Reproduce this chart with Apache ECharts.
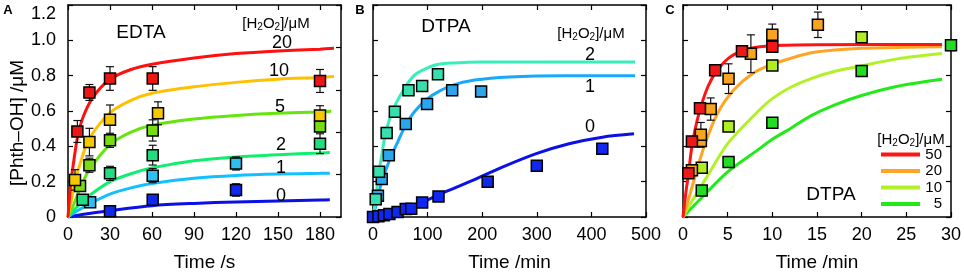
<!DOCTYPE html>
<html><head><meta charset="utf-8">
<script src="https://cdn.jsdelivr.net/npm/echarts@6/dist/echarts.min.js"></script>
<style>html,body{margin:0;padding:0;background:#fff}#c{width:964px;height:277px}</style>
</head><body><div id="c"></div>
<script>
// ---------- Panel A : EDTA, time in s ----------
const A_xTicksMax = 195;
const A_fit20 = [[0,0],[2,0.19],[4,0.31],[7,0.46],[11,0.57],[18,0.68],[30,0.78],[45,0.835],[60,0.865],[90,0.9],[120,0.925],[150,0.94],[180,0.95],[190,0.955]];
const A_fit10 = [[0,0],[2,0.08],[5,0.2],[8.6,0.3],[15,0.44],[30,0.59],[45,0.66],[60,0.7],[90,0.737],[120,0.762],[150,0.78],[180,0.79],[190,0.795]];
const A_fit5  = [[0,0],[4,0.07],[8.6,0.16],[15,0.265],[30,0.41],[45,0.48],[60,0.52],[90,0.555],[120,0.575],[150,0.587],[180,0.595],[188,0.598]];
const A_fit2  = [[0,0],[5,0.045],[10,0.085],[15,0.12],[30,0.2],[45,0.245],[60,0.278],[90,0.318],[120,0.34],[150,0.353],[180,0.362],[187,0.365]];
const A_fit1  = [[0,0],[5,0.027],[10,0.05],[16,0.078],[30,0.13],[45,0.165],[60,0.19],[90,0.219],[120,0.235],[150,0.243],[180,0.247],[187,0.248]];
const A_fit0  = [[0,0],[10,0.014],[30,0.036],[60,0.064],[90,0.077],[120,0.085],[150,0.091],[180,0.096],[187,0.097]];
// points: [time, value, error]
const A_pts20 = [[6.7,0.484,0.062],[15.3,0.705,0.045],[30,0.784,0.067],[60.5,0.784,0.067],[180,0.77,0.065]];
const A_pts10 = [[5,0.21,0.058],[15.3,0.424,0.078],[30,0.55,0.084],[64.3,0.587,0.065],[180,0.574,0.056]];
const A_pts5  = [[8.6,0.176,0.02],[15.3,0.293,0.04],[30,0.434,0.04],[60.5,0.49,0.06],[180,0.512,0.03]];
const A_pts2  = [[10.5,0.097,0.015],[30,0.247,0.04],[60.5,0.35,0.056],[180,0.415,0.056]];
const A_pts1  = [[15.8,0.084,0.015],[60.5,0.234,0.04],[120,0.303,0.037]];
const A_pts0  = [[30,0.032,0.01],[60.5,0.097,0.015],[120,0.153,0.035]];

// ---------- Panel B : DTPA, time in min ----------
const B_fit2 = [[0,0],[5,0.1],[10,0.24],[15,0.33],[22,0.46],[30,0.55],[40,0.63],[58,0.73],[75,0.8],[90,0.83],[116,0.862],[150,0.872],[200,0.877],[300,0.878],[480,0.878]];
const B_fit1 = [[0,0],[8,0.1],[16,0.2],[30,0.32],[46,0.43],[60,0.52],[77,0.6],[100,0.67],[120,0.71],[145,0.745],[186,0.775],[250,0.793],[350,0.8],[480,0.8]];
const B_fit0 = [[0,0],[30,0.012],[55,0.032],[89,0.079],[119,0.125],[150,0.165],[177,0.2],[238,0.284],[299,0.359],[359,0.415],[420,0.452],[478,0.471]];
const B_pts2 = [[5,0.1,0],[11,0.256,0],[25,0.475,0],[40,0.596,0],[65,0.718,0],[90,0.742,0],[119,0.808,0]];
const B_pts1 = [[9,0.12,0],[16,0.215,0],[29,0.35,0],[60,0.527,0],[99,0.64,0],[145,0.718,0.03],[198,0.71,0]];
const B_pts0 = [[0,0,0],[10,0.004,0],[20,0.01,0],[30,0.017,0],[45,0.028,0],[60,0.045,0],[70,0.047,0],[90,0.082,0],[120,0.116,0],[210,0.2,0],[300,0.29,0],[420,0.387,0]];

// ---------- Panel C : DTPA, time in min ----------
const C_fit50 = [[0,0],[0.3,0.13],[0.6,0.24],[1,0.4],[1.7,0.57],[2.8,0.74],[3.9,0.835],[5.4,0.91],[7.6,0.955],[10,0.97],[15,0.975],[29,0.976]];
const C_fit20 = [[0,0],[0.5,0.08],[1.3,0.22],[2.4,0.405],[3.9,0.59],[5.7,0.72],[7.9,0.815],[10,0.865],[12.5,0.905],[14.4,0.93],[17,0.945],[20,0.955],[25,0.961],[29,0.963]];
const C_fit10 = [[0,0],[1,0.09],[2.8,0.237],[5,0.415],[8.3,0.593],[10,0.67],[12,0.733],[14.4,0.785],[17,0.825],[19.9,0.855],[24,0.895],[29,0.925]];
const C_fit5  = [[0,0],[2,0.105],[5,0.256],[8.3,0.377],[10,0.44],[12,0.5],[14.4,0.575],[17,0.635],[19.9,0.686],[24,0.74],[29,0.78]];
const C_pts50 = [[0.6,0.247,0.02],[1,0.428,0],[1.9,0.615,0],[3.6,0.83,0],[6.6,0.938,0],[10,0.963,0]];
const C_pts20 = [[1,0.265,0.03],[2,0.43,0],[2,0.465,0.07],[3.1,0.611,0.063],[5.1,0.783,0.084],[7.6,0.924,0.107],[10,1.032,0.06],[15.1,1.088,0.072]];
const C_pts10 = [[2.1,0.279,0],[5.1,0.512,0],[10,0.858,0],[20,1.017,0]];
const C_pts5  = [[2.1,0.15,0],[5.1,0.312,0],[10,0.533,0],[20,0.826,0],[30,0.972,0.03]];

const yTicks = [0, 0.2, 0.4, 0.6, 0.8, 1.0, 1.2];
const legendC = ['50', '20', '10', '5'];

const FONT = "'Liberation Sans', Arial, sans-serif";
const chart = echarts.init(document.getElementById('c'), null, {renderer: 'canvas'});

const grids = [
  {left: 68, top: 5, width: 273, height: 214},
  {left: 373, top: 5, width: 273, height: 214},
  {left: 683, top: 5, width: 272, height: 214}
];
const axLine = {show: true, onZero: false, lineStyle: {color: '#000', width: 1.5}};
const axTick = {show: true, inside: true, length: 5, lineStyle: {color: '#000', width: 1.2}};

function xPair(gi, max, interval, name) {
  const base = {gridIndex: gi, type: 'value', min: 0, max: max, interval: interval,
    axisLine: axLine, axisTick: axTick, splitLine: {show: false}};
  return [
    Object.assign({}, base, {position: 'bottom', name: name, nameLocation: 'middle', nameGap: 36,
      nameTextStyle: {fontSize: 19, color: '#000', fontFamily: FONT},
      axisLabel: {show: true, fontSize: 18, color: '#000', fontFamily: FONT, margin: 9,
        showMaxLabel: max % interval === 0}}),
    Object.assign({}, base, {position: 'top', axisLabel: {show: false}})
  ];
}
function yPair(gi, rightInterval) {
  const base = {gridIndex: gi, type: 'value', min: yTicks[0], max: yTicks[yTicks.length - 1],
    axisLine: axLine, axisTick: axTick, splitLine: {show: false}};
  return [
    Object.assign({}, base, {position: 'left', interval: 0.2,
      name: gi === 0 ? '[Phth–OH] /μM' : '', nameLocation: 'middle', nameGap: 41,
      nameTextStyle: {fontSize: 19, color: '#000', fontFamily: FONT, padding: [0, 24, 0, 0]},
      axisLabel: {show: gi === 0, fontSize: 18, color: '#000', fontFamily: FONT, margin: 12,
        verticalAlignMaxLabel: 'top',
        formatter: v => v === 0 ? '0' : v.toFixed(1)}}),
    Object.assign({}, base, {position: 'right', interval: rightInterval, axisLabel: {show: false}})
  ];
}

const xAxis = [].concat(xPair(0, A_xTicksMax, 30, 'Time /s'), xPair(1, 500, 100, 'Time /min'), xPair(2, 30, 5, 'Time /min'));
const yAxis = [].concat(yPair(0, 0.24), yPair(1, 0.2), yPair(2, 0.2));

const series = [];
function curve(gi, data, color, name) {
  series.push({type: 'line', name: name, xAxisIndex: gi * 2, yAxisIndex: gi * 2, data: data,
    smooth: 0.3, symbol: 'none', showSymbol: false,
    lineStyle: {color: color, width: 3}, itemStyle: {color: color}, z: 2, silent: true});
}
function points(gi, data, color) {
  const withErr = data.filter(d => d[2] > 0);
  series.push({type: 'custom', xAxisIndex: gi * 2, yAxisIndex: gi * 2, data: withErr, z: 3, silent: true,
    renderItem: function (params, api) {
      const x = api.value(0), y = api.value(1), e = api.value(2);
      const t = api.coord([x, y + e]), b = api.coord([x, y - e]);
      const w = 4, st = {stroke: '#111', lineWidth: 1.2};
      return {type: 'group', children: [
        {type: 'line', shape: {x1: t[0], y1: t[1], x2: b[0], y2: b[1]}, style: st},
        {type: 'line', shape: {x1: t[0] - w, y1: t[1], x2: t[0] + w, y2: t[1]}, style: st},
        {type: 'line', shape: {x1: b[0] - w, y1: b[1], x2: b[0] + w, y2: b[1]}, style: st}
      ]};
    }});
  series.push({type: 'scatter', xAxisIndex: gi * 2, yAxisIndex: gi * 2, data: data.map(d => [d[0], d[1]]),
    symbol: 'rect', symbolSize: 11, clip: false,
    itemStyle: {color: color, borderColor: '#000', borderWidth: 1.5, opacity: 1}, z: 4, silent: true});
}

// Panel A
curve(0, A_fit0, '#0a10e6'); curve(0, A_fit1, '#12c0ff'); curve(0, A_fit2, '#10ee70');
curve(0, A_fit5, '#66e410'); curve(0, A_fit10, '#ffc000'); curve(0, A_fit20, '#ff1010');
points(0, A_pts0, '#1028ee'); points(0, A_pts1, '#30bdf0'); points(0, A_pts2, '#22dd80');
points(0, A_pts5, '#78dc12'); points(0, A_pts10, '#f6c800'); points(0, A_pts20, '#ee1515');
// Panel B
curve(1, B_fit0, '#0a10e6'); curve(1, B_fit1, '#18a8ff'); curve(1, B_fit2, '#38eebb');
points(1, B_pts0, '#1028ee'); points(1, B_pts1, '#2aa6ee'); points(1, B_pts2, '#36e0ae');
// Panel C
curve(2, C_fit5, '#22ea18', legendC[3]); curve(2, C_fit10, '#b2f028', legendC[2]);
curve(2, C_fit20, '#ffa424', legendC[1]); curve(2, C_fit50, '#ff1414', legendC[0]);
points(2, C_pts5, '#22dd22'); points(2, C_pts10, '#b0ee22'); points(2, C_pts20, '#f7a520'); points(2, C_pts50, '#ee1818');

function txt(x, y, text, size, extra) {
  return {type: 'text', x: x, y: y, silent: true, z: 10,
    style: Object.assign({text: text, fontSize: size, fontFamily: FONT, fill: '#000', align: 'center', verticalAlign: 'middle'}, extra || {})};
}
const h2o2 = '[H{s|2}O{s|2}]/μM';
const richSub = {rich: {s: {fontSize: 10, fontFamily: FONT, fill: '#000', verticalAlign: 'bottom', lineHeight: 10, padding: [0, 0, 0, 0]}}, lineHeight: 16};

const option = {
  animation: false,
  backgroundColor: '#fff',
  grid: grids,
  xAxis: xAxis,
  yAxis: yAxis,
  series: series,
  legend: {data: legendC, orient: 'vertical', left: 881, top: 147, itemWidth: 39, itemHeight: 4,
    itemGap: 1.5, icon: 'rect', selectedMode: false, padding: 0,
    formatter: '{a|{name}}',
    textStyle: {fontSize: 15, fontFamily: FONT, color: '#000', lineHeight: 15,
      rich: {a: {fontSize: 15, fontFamily: FONT, color: '#000', width: 17, align: 'right', lineHeight: 15}}}},
  graphic: [
    txt(8, 10, 'A', 13, {fontWeight: 'bold'}),
    txt(360, 10, 'B', 13, {fontWeight: 'bold'}),
    txt(670, 10, 'C', 13, {fontWeight: 'bold'}),
    txt(141, 33, 'EDTA', 19),
    txt(276, 24, h2o2, 15, richSub),
    txt(282, 43, '20', 18), txt(279, 71, '10', 18), txt(280, 107, '5', 18),
    txt(281, 145, '2', 18), txt(281, 168, '1', 18), txt(281, 196, '0', 18),
    txt(446, 27, 'DTPA', 19),
    txt(591, 34, h2o2, 15, richSub),
    txt(590, 55, '2', 18), txt(590, 87, '1', 18), txt(590, 127, '0', 18),
    txt(831, 195, 'DTPA', 19),
    txt(911, 140, h2o2, 15, richSub)
  ]
};
chart.setOption(option);
</script></body></html>
